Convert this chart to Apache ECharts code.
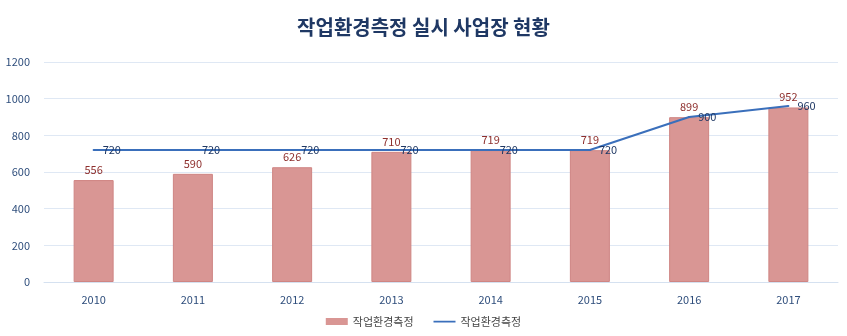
<!DOCTYPE html>
<html><head><meta charset="utf-8">
<script src="https://cdn.jsdelivr.net/npm/echarts@6/dist/echarts.min.js"></script>
<style>html,body{margin:0;padding:0;background:#fff}#c{width:847px;height:336px}</style>
</head><body><div id="c"></div>
<script>
const years = ['2010','2011','2012','2013','2014','2015','2016','2017'];
const barValues = [556, 590, 626, 710, 719, 719, 899, 952];
const lineValues = [720, 720, 720, 720, 720, 720, 900, 960];
const seriesNames = ['작업환경측정', '작업환경측정'];
const titleText = '작업환경측정 실시 사업장 현황';
const FONT = '"Noto Sans CJK KR", "Noto Sans", sans-serif';
const chart = echarts.init(document.getElementById('c'));
chart.setOption({
  animation: false,
  textStyle: { fontFamily: FONT },
  title: { text: titleText, left: 'center', top: 12,
    textStyle: { fontSize: 20, fontWeight: 'bold', color: '#1f3864', fontFamily: FONT } },
  grid: { left: 44, right: 9, top: 62, bottom: 54 },
  legend: { bottom: 4, left: 'center', itemWidth: 22, itemHeight: 7, itemGap: 20,
    symbolKeepAspect: false,
    textStyle: { fontSize: 11, color: '#444', fontFamily: FONT },
    data: [
      { name: 'bar', icon: 'rect', itemStyle: { borderWidth: 0 } },
      { name: 'line', icon: 'path://M0,0H0.01V0.01H0Z M0,3H22V5H0Z M21.99,7.99H22V8H21.99Z' }
    ],
    formatter: n => n === 'bar' ? seriesNames[0] : seriesNames[1] },
  xAxis: { type: 'category', data: years,
    axisLine: { lineStyle: { color: '#d5e1f0' } }, axisTick: { show: false },
    axisLabel: { color: '#2f4e7c', fontSize: 11, margin: 12 } },
  yAxis: { type: 'value', min: 0, max: 1200, interval: 200,
    axisLine: { show: false }, axisTick: { show: false },
    splitLine: { lineStyle: { color: '#dfe8f4' } },
    axisLabel: { color: '#2f4e7c', fontSize: 11, margin: 14, formatter: v => String(v) } },
  series: [
    { name: 'bar', type: 'bar', data: barValues, barWidth: 40,
      itemStyle: { color: '#d99694', borderColor: '#cf8583', borderWidth: 1 },
      label: { show: true, position: 'top', distance: 5, color: '#8e2f2d', fontSize: 11, fontFamily: FONT } },
    { name: 'line', type: 'line', data: lineValues, symbol: 'circle', symbolSize: 2,
      lineStyle: { color: '#3a6fbb', width: 2 }, itemStyle: { color: '#3a6fbb' },
      label: { show: true, position: 'right', distance: 8, color: '#1f3864', fontSize: 11, fontFamily: FONT } }
  ]
});
</script></body></html>
